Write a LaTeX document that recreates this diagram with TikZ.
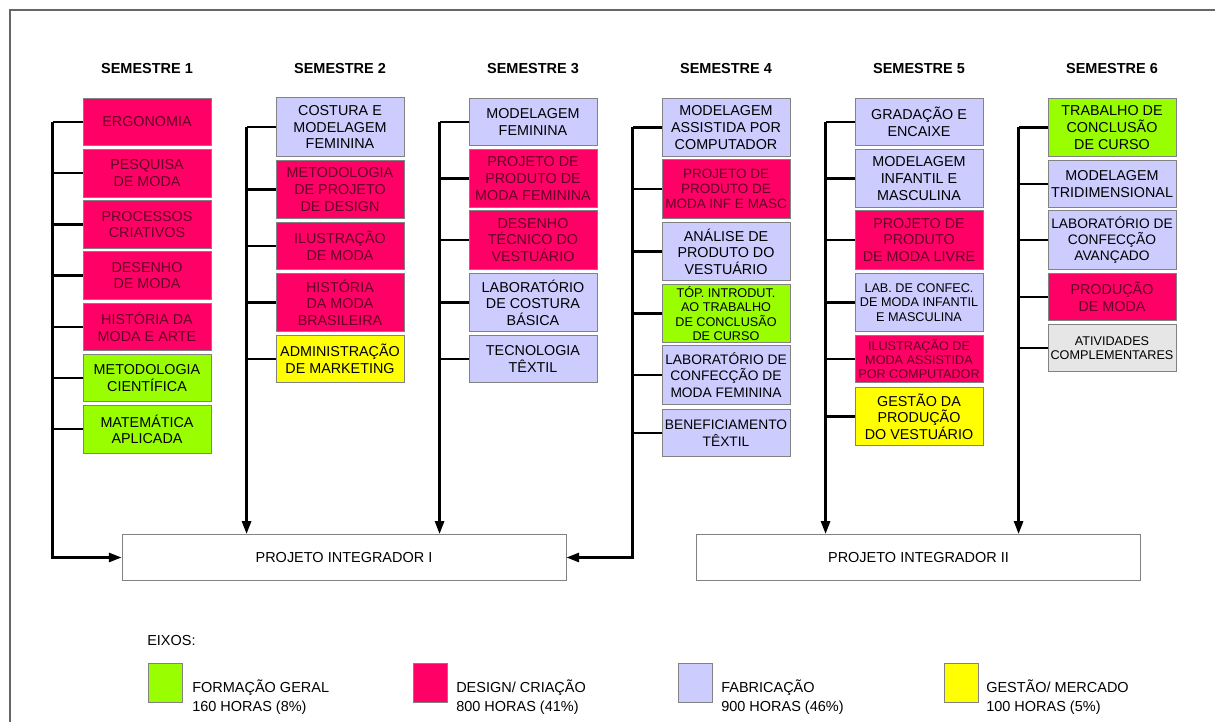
\documentclass[tikz,border=0pt]{standalone}
\usepackage{fontspec}
\setmainfont{Liberation Sans}
\usepackage{tikz}
\usetikzlibrary{arrows.meta}
\definecolor{verde}{RGB}{153,255,0}
\definecolor{rosa}{RGB}{255,0,102}
\definecolor{vinho}{RGB}{100,0,38}
\definecolor{lilas}{RGB}{204,204,255}
\definecolor{amarelo}{RGB}{255,255,0}
\definecolor{cinza}{RGB}{230,230,230}
\definecolor{borda}{RGB}{130,130,130}

\begin{document}
\begin{tikzpicture}[
		x=0.025cm, y=-0.025cm,
		disc/.style={draw=borda, line width=0.6pt, minimum width=3.2cm,
			inner sep=0pt, align=center, font=\fontsize{10.2}{11.8}\selectfont},
		curto/.style={disc, minimum height=1.19cm},
		alto/.style={disc, minimum height=1.46cm},
		geral/.style={fill=verde},
		design/.style={fill=rosa, text=vinho},
		fabric/.style={fill=lilas},
		gestao/.style={fill=amarelo},
		ativ/.style={fill=cinza},
		pequeno/.style={font=\fontsize{9}{10.1}\selectfont},
		titulo/.style={inner sep=0pt, font=\bfseries\fontsize{10.3}{12}\selectfont},
		proj/.style={draw=borda, line width=0.6pt, minimum width=11.1cm,
			minimum height=1.16cm, font=\fontsize{10.3}{12}\selectfont},
		eixo/.style={draw=borda, line width=0.6pt, minimum width=0.85cm,
			minimum height=0.975cm, inner sep=0pt},
		leg/.style={anchor=west, inner sep=0pt, align=left,
			font=\fontsize{10.3}{14}\selectfont},
		liga/.style={line width=1.6pt},
		>={Triangle[length=9pt,width=6.5pt]}
		]
		\useasboundingbox (0,0) rectangle (1215,722);
		\draw[black!60, line width=1pt] (1215,10) -- (10,10) -- (10,722);
		
		\node[titulo] (sem1) at (147,69)  {SEMESTRE 1};
		\node[titulo] (sem2) at (340,69)  {SEMESTRE 2};
		\node[titulo] (sem3) at (533,69)  {SEMESTRE 3};
		\node[titulo] (sem4) at (726,69)  {SEMESTRE 4};
		\node[titulo] (sem5) at (919,69)  {SEMESTRE 5};
		\node[titulo] (sem6) at (1112,69) {SEMESTRE 6};
		
		\node[curto, design] (s1a) at (147,122)   {ERGONOMIA};
		\node[curto, design] (s1b) at (147,173.2) {PESQUISA\\DE MODA};
		\node[curto, design] (s1c) at (147,224.4) {PROCESSOS\\CRIATIVOS};
		\node[curto, design] (s1d) at (147,275.6) {DESENHO\\DE MODA};
		\node[curto, design] (s1e) at (147,326.8) {HISTÓRIA DA\\MODA E ARTE};
		\node[curto, geral]  (s1f) at (147,378)   {METODOLOGIA\\CIENTÍFICA};
		\node[curto, geral]  (s1g) at (147,429.2) {MATEMÁTICA\\APLICADA};
		
		\node[alto, fabric]  (s2a) at (340,127)   {COSTURA E\\MODELAGEM\\FEMININA};
		\node[alto, design]  (s2b) at (340,189.5) {METODOLOGIA\\DE PROJETO\\DE DESIGN};
		\node[curto, design] (s2c) at (340,246)   {ILUSTRAÇÃO\\DE MODA};
		\node[alto, design]  (s2d) at (340,302.5) {HISTÓRIA\\DA MODA\\BRASILEIRA};
		\node[curto, gestao] (s2e) at (340,359)   {ADMINISTRAÇÃO\\DE MARKETING};
		
		\node[curto, fabric] (s3a) at (533,122)   {MODELAGEM\\FEMININA};
		\node[alto, design]  (s3b) at (533,178.5) {PROJETO DE\\PRODUTO DE\\MODA FEMININA};
		\node[alto, design]  (s3c) at (533,240)   {DESENHO\\TÉCNICO DO\\VESTUÁRIO};
		\node[alto, fabric]  (s3d) at (533,302.5) {LABORATÓRIO\\DE COSTURA\\BÁSICA};
		\node[curto, fabric] (s3e) at (533,359)   {TECNOLOGIA\\TÊXTIL};
		
		\node[alto, fabric]  (s4a) at (726,127.5) {MODELAGEM\\ASSISTIDA POR\\COMPUTADOR};
		\node[alto, design, font=\fontsize{9.6}{10.9}\selectfont] (s4b) at (726,189) {PROJETO DE\\PRODUTO DE\\MODA INF E MASC};
		\node[alto, fabric]  (s4c) at (726,251.5) {ANÁLISE DE\\PRODUTO DO\\VESTUÁRIO};
		\node[alto, geral, pequeno] (s4d) at (726,313.5) {TÓP. INTRODUT.\\AO TRABALHO\\DE CONCLUSÃO\\DE CURSO};
		\node[alto, fabric, font=\fontsize{9.8}{11.6}\selectfont] (s4e) at (726,375) {LABORATÓRIO DE\\CONFECÇÃO DE\\MODA FEMININA};
		\node[curto, fabric, font=\fontsize{9.8}{11.8}\selectfont] (s4f) at (726,433) {BENEFICIAMENTO\\TÊXTIL};
		
		\node[curto, fabric] (s5a) at (919,122)   {GRADAÇÃO E\\ENCAIXE};
		\node[alto, fabric]  (s5b) at (919,178.5) {MODELAGEM\\INFANTIL E\\MASCULINA};
		\node[alto, design]  (s5c) at (919,240)   {PROJETO DE\\PRODUTO\\DE MODA LIVRE};
		\node[alto, fabric, pequeno]  (s5d) at (919,302.5) {LAB. DE CONFEC.\\DE MODA INFANTIL\\E MASCULINA};
		\node[curto, design, pequeno] (s5e) at (919,359)   {ILUSTRAÇÃO DE\\MODA ASSISTIDA\\POR COMPUTADOR};
		\node[alto, gestao]  (s5f) at (919,416.5) {GESTÃO DA\\PRODUÇÃO\\DO VESTUÁRIO};
		
		\node[alto, geral]   (s6a) at (1112,127.5) {TRABALHO DE\\CONCLUSÃO\\DE CURSO};
		\node[curto, fabric] (s6b) at (1112,184)   {MODELAGEM\\TRIDIMENSIONAL};
		\node[alto, fabric, font=\fontsize{9.8}{11.6}\selectfont] (s6c) at (1112,240) {LABORATÓRIO DE\\CONFECÇÃO\\AVANÇADO};
		\node[curto, design] (s6d) at (1112,297)   {PRODUÇÃO\\DE MODA};
		\node[curto, ativ, pequeno] (s6e) at (1112,348) {ATIVIDADES\\COMPLEMENTARES};
		
		\node[proj] (pi1) at (344,557.5)   {PROJETO INTEGRADOR I};
		\node[proj] (pi2) at (918.5,557.5) {PROJETO INTEGRADOR II};
		
		\path (s1a.west) ++(-30,0) coordinate (v1);
		\path (s2a.west) ++(-29,0) coordinate (v2);
		\path (s3a.west) ++(-29,0) coordinate (v3);
		\path (s4a.west) ++(-29,0) coordinate (v4);
		\path (s5a.west) ++(-29,0) coordinate (v5);
		\path (s6a.west) ++(-29,0) coordinate (v6);
		
		\foreach \k in {a,...,g} \draw[liga] (s1\k.west) -- (s1\k.west -| v1);
		\foreach \k in {a,...,e} \draw[liga] (s2\k.west) -- (s2\k.west -| v2);
		\foreach \k in {a,...,e} \draw[liga] (s3\k.west) -- (s3\k.west -| v3);
		\foreach \k in {a,...,f} \draw[liga] (s4\k.west) -- (s4\k.west -| v4);
		\foreach \k in {a,...,f} \draw[liga] (s5\k.west) -- (s5\k.west -| v5);
		\foreach \k in {a,...,e} \draw[liga] (s6\k.west) -- (s6\k.west -| v6);
		
		\draw[liga, ->] (v1) |- (pi1);
		\draw[liga, ->] (v2) -- (v2 |- pi1.north);
		\draw[liga, ->] (v3) -- (v3 |- pi1.north);
		\draw[liga, ->] (v4) |- (pi1);
		\draw[liga, ->] (v5) -- (v5 |- pi2.north);
		\draw[liga, ->] (v6) -- (v6 |- pi2.north);
		
		\node[leg] (eixos) at (147,641) {EIXOS:};
		\node[eixo, fill=verde]   (q1) at (165,682.5) {};
		\node[leg] (l1) at (192,697) {FORMAÇÃO GERAL\\160 HORAS (8\%)};
		\node[eixo, fill=rosa]    (q2) at (430,682.5) {};
		\node[leg] (l2) at (456,697) {DESIGN/ CRIAÇÃO\\800 HORAS (41\%)};
		\node[eixo, fill=lilas]   (q3) at (695,682.5) {};
		\node[leg] (l3) at (721,697) {FABRICAÇÃO\\900 HORAS (46\%)};
		\node[eixo, fill=amarelo] (q4) at (961,682.5) {};
		\node[leg] (l4) at (986,697) {GESTÃO/ MERCADO\\100 HORAS (5\%)};
	\end{tikzpicture}
\end{document}
